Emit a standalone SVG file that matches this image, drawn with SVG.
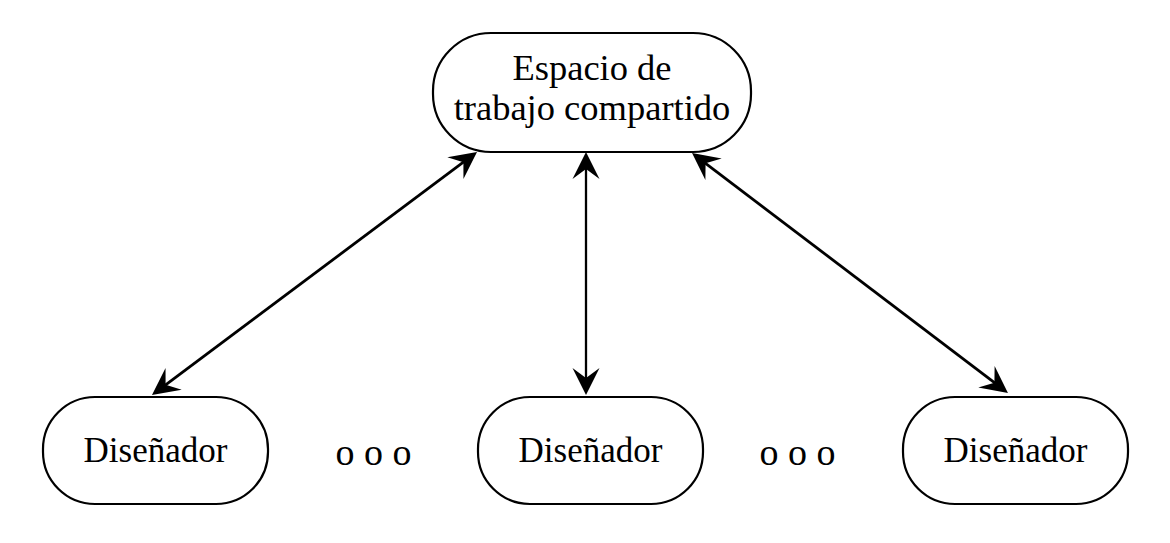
<svg xmlns="http://www.w3.org/2000/svg" width="1170" height="543" viewBox="0 0 1170 543">
<style>
.node{fill:#fff;stroke:#000;stroke-width:2.2}
.lbl{font-family:"Liberation Serif","DejaVu Serif",serif;font-size:35px;fill:#000;text-anchor:middle}
.top{font-size:36.5px}
.dots{font-family:"Liberation Serif","DejaVu Serif",serif;font-size:38px;fill:#000;text-anchor:middle}
.edge{stroke:#000;stroke-width:2.8;fill:none;marker-start:url(#stealth);marker-end:url(#stealth)}
</style>
<defs>
<marker id="stealth" markerUnits="userSpaceOnUse" viewBox="-16 -14 30 28" refX="0" refY="0" markerWidth="30" markerHeight="28" orient="auto-start-reverse">
<path d="M12,0 L-15,-13.5 L-5,0 L-15,13.5 Z" fill="#000"/>
</marker>
</defs>
<rect width="1170" height="543" fill="#fff"/>
<g id="connectors">
<line class="edge" x1="161.6" y1="387.8" x2="467.4" y2="159.2"/>
<line class="edge" x1="586" y1="383" x2="586" y2="164" style="stroke-width:2.3"/>
<line class="edge" x1="998.4" y1="385.7" x2="701.6" y2="160.3"/>
</g>
<g id="workspace">
<rect class="node" x="433" y="33" width="318" height="119" rx="58" ry="58"/>
<text class="lbl top" x="592" y="80">Espacio de</text>
<text class="lbl top" x="592" y="120">trabajo compartido</text>
</g>
<g id="designer1">
<rect class="node" x="43" y="397" width="225" height="107" rx="52" ry="52"/>
<text class="lbl" x="155.5" y="462">Diseñador</text>
</g>
<g id="designer2">
<rect class="node" x="478" y="397" width="225" height="107" rx="52" ry="52"/>
<text class="lbl" x="590.5" y="462">Diseñador</text>
</g>
<g id="designer3">
<rect class="node" x="903" y="397" width="225" height="107" rx="52" ry="52"/>
<text class="lbl" x="1015.5" y="462">Diseñador</text>
</g>
<g id="ellipsis1"><text class="dots" x="373.5" y="465">o o o</text></g>
<g id="ellipsis2"><text class="dots" x="797.5" y="465">o o o</text></g>
</svg>
